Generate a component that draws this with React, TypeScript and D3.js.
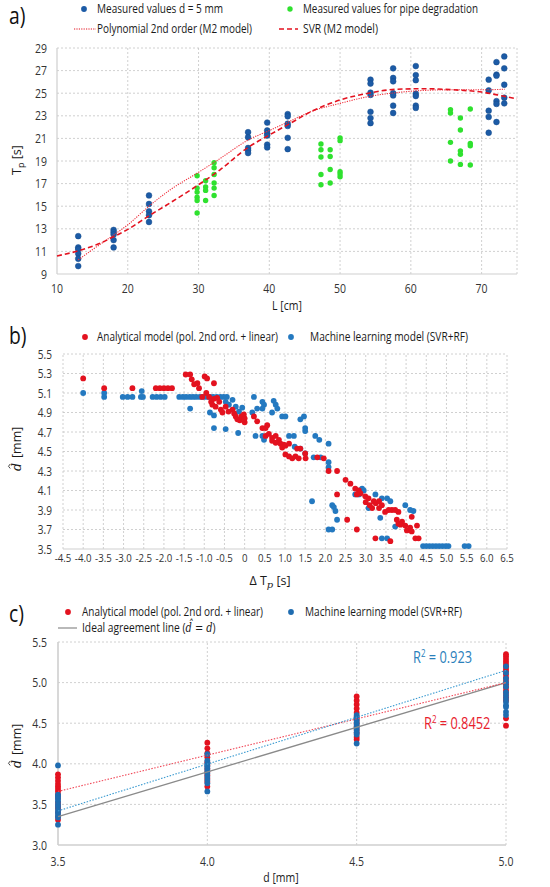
import React from "react";
import * as d3 from "d3";

const W = 550;
const H = 887;
const FONT = "'Open Sans', 'Noto Sans', sans-serif";
const MATH = "'DejaVu Serif', 'Liberation Serif', serif";
const SX = 0.84; // the source figure is squeezed horizontally

// ---------- a) peak period vs pipe length ----------
const lTicks = [10, 20, 30, 40, 50, 60, 70];
const tTicks = [9, 11, 13, 15, 17, 19, 21, 23, 25, 27, 29];

const measuredL = [13, 18, 23, 37, 39.7, 42.6, 54.3, 57.5, 60.7, 71, 72.1, 73.2];
const measuredT = [
  [12.35, 11.35, 11.2, 10.8, 10.35, 9.7],
  [12.9, 12.7, 12.5, 12.0, 11.35],
  [15.95, 15.2, 14.55, 14.2, 13.6],
  [21.55, 21.1, 20.15, 19.95, 19.7],
  [22.4, 21.7, 21.45, 21.25, 20.45, 20.2],
  [23.15, 22.95, 22.3, 22.1, 21.05, 20.05],
  [26.2, 25.85, 25.05, 24.85, 23.35, 22.8, 22.35],
  [27.2, 26.35, 26.05, 25.0, 24.8, 23.9, 23.25],
  [27.4, 26.6, 26.15, 24.95, 24.75, 23.9, 23.7],
  [26.2, 25.25, 23.45, 22.9, 21.5],
  [27.75, 26.65, 26.55, 24.3, 24.05, 22.45],
  [28.25, 27.2, 25.75, 24.6, 24.1],
];

const degradedL = [29.8, 31, 32.2, 47.3, 48.6, 50, 65.6, 67, 68.4];
const degradedT = [
  [17.7, 16.6, 16.25, 15.8, 15.5, 14.4],
  [17.25, 16.7, 16.4, 15.5],
  [18.85, 18.4, 17.8, 17.05, 16.6, 15.95],
  [20.5, 20.0, 19.35, 17.8, 16.9],
  [20.0, 19.4, 18.25, 17.05],
  [21.05, 20.8, 18.05, 17.85, 17.6],
  [23.55, 23.25, 20.65, 19.0],
  [22.8, 21.75, 19.9, 19.6, 18.7],
  [23.6, 20.55, 20.35, 18.65],
];

const polyCurve: [number, number][] = [
  [13, 10.25], [15, 11.15], [18, 12.45], [20, 13.35], [23, 15.0], [26, 16.45],
  [30, 18.0], [33, 19.2], [37, 20.85], [40, 21.7], [43, 22.55], [46, 23.4],
  [50, 24.1], [54, 24.7], [58, 25.05], [62, 25.25], [66, 25.3], [70, 25.3], [73.3, 25.35],
];
const svrCurve: [number, number][] = [
  [10, 10.6], [13, 11.05], [16, 11.7], [18, 12.3], [20, 12.95], [23, 14.15],
  [26, 15.3], [30, 16.9], [33, 18.2], [37, 20.2], [40, 21.3], [43, 22.35],
  [46, 23.4], [50, 24.4], [54, 25.0], [58, 25.35], [62, 25.4], [66, 25.3],
  [70, 25.1], [73, 24.75], [75, 24.5],
];

// ---------- b) predicted diameter vs delta Tp ----------
const dtTicks = [-4.5, -4.0, -3.5, -3.0, -2.5, -2.0, -1.5, -1.0, -0.5, 0, 0.5, 1.0, 1.5, 2.0, 2.5, 3.0, 3.5, 4.0, 4.5, 5.0, 5.5, 6.0, 6.5];
const dhatTicksB = [3.5, 3.7, 3.9, 4.1, 4.3, 4.5, 4.7, 4.9, 5.1, 5.3, 5.5];

const analyticalB: [number, number][] = [
  [-4.0, 5.25], [-3.48, 5.15], [-2.78, 5.15], [-2.2, 5.15], [-2.1, 5.15], [-2.0, 5.15], [-1.9, 5.15], [-1.8, 5.15],
  [-1.46, 5.29], [-1.35, 5.29], [-1.31, 5.24], [-1.25, 5.19], [-1.17, 5.2], [-1.13, 5.15], [-0.99, 5.27], [-0.93, 5.25], [-0.76, 5.2],
  [-1.05, 5.06], [-0.95, 5.1], [-0.88, 5.06], [-0.83, 5.01], [-0.76, 5.04], [-0.68, 5.05], [-0.63, 5.01], [-0.8, 4.98], [-0.72, 4.96],
  [-0.59, 4.93], [-0.55, 4.9], [-0.47, 4.96], [-0.4, 4.91], [-0.3, 4.93], [-0.26, 4.89], [-0.22, 4.86], [-0.18, 4.83], [-0.12, 4.82],
  [-0.08, 4.86], [-0.02, 4.88], [0.0, 4.84], [0.0, 4.8],
  [0.23, 4.86], [0.31, 4.81], [0.44, 4.74], [0.52, 4.74], [0.56, 4.77], [0.52, 4.66], [0.6, 4.68], [0.68, 4.64], [0.77, 4.66],
  [0.85, 4.62], [0.68, 4.61], [0.77, 4.59], [0.89, 4.58], [0.97, 4.57],
  [0.93, 4.54], [1.01, 4.56], [1.1, 4.58], [1.01, 4.47], [1.1, 4.45], [1.18, 4.43], [1.26, 4.45], [1.34, 4.43], [1.51, 4.43],
  [1.3, 4.53], [1.38, 4.53], [1.5, 4.48], [1.8, 4.44], [1.96, 4.43],
  [2.08, 4.3], [2.29, 4.3], [2.5, 4.21], [2.62, 4.17], [2.29, 4.06], [2.74, 4.12], [2.83, 4.1], [2.87, 4.07], [2.78, 4.06],
  [2.99, 4.04], [3.07, 4.02],
  [3.0, 3.98], [3.1, 3.95], [3.2, 3.99], [3.25, 3.97], [3.33, 3.99], [3.16, 3.92], [3.33, 3.92], [3.4, 3.95],
  [3.48, 3.88], [3.57, 3.9], [3.65, 3.9], [3.73, 3.9], [3.81, 3.88], [3.77, 3.8], [3.81, 3.76], [3.9, 3.78], [3.86, 3.75],
  [3.98, 3.74], [4.02, 3.69], [4.1, 3.72], [4.14, 3.68], [4.14, 3.83], [4.27, 3.74], [4.23, 3.61], [4.31, 3.61],
  [3.24, 3.61], [3.61, 3.58], [2.78, 3.7], [2.54, 3.8],
];

const machineB: [number, number][] = [
  [-4.0, 5.1], [-3.48, 5.1], [-3.48, 5.06], [-3.02, 5.06], [-2.9, 5.06], [-2.78, 5.06], [-2.57, 5.06], [-2.52, 5.06], [-2.55, 5.12],
  [-2.28, 5.06], [-2.18, 5.06], [-2.08, 5.06], [-1.98, 5.06],
  [-1.62, 5.06], [-1.53, 5.06], [-1.45, 5.06], [-1.36, 5.06], [-1.28, 5.06], [-1.2, 5.06], [-1.11, 5.06], [-1.03, 5.06],
  [-0.94, 5.06], [-0.86, 5.06], [-0.78, 5.06], [-0.69, 5.06], [-0.6, 5.06], [-0.52, 5.06], [-0.44, 5.06],
  [-1.35, 4.94], [-0.86, 4.9], [-0.76, 4.87], [-0.76, 4.74], [-0.47, 4.73], [-0.16, 4.69], [-0.47, 5.01], [-0.39, 4.98],
  [-0.3, 5.03], [-0.22, 4.96], [-0.14, 4.91], [-0.06, 4.95],
  [0.23, 5.06], [0.44, 5.01], [0.48, 4.98], [0.44, 4.94], [0.19, 4.9], [0.31, 4.94], [0.27, 4.66], [0.44, 4.66], [0.48, 4.62],
  [0.72, 5.02], [0.77, 4.98], [0.81, 4.94], [0.68, 4.9], [0.93, 4.86], [1.01, 4.86], [1.1, 4.66], [1.22, 4.66], [1.24, 4.55],
  [1.47, 4.86], [1.38, 4.83], [1.5, 4.74], [1.5, 4.71], [1.75, 4.66], [1.85, 4.62], [2.08, 4.58], [1.71, 4.44], [1.88, 4.44],
  [1.38, 4.53], [1.5, 4.48], [2.08, 4.39], [2.08, 4.34],
  [1.67, 3.99], [2.17, 3.95], [2.21, 3.93], [2.25, 3.89], [2.29, 3.8], [2.08, 3.7], [2.17, 3.7], [2.74, 4.06], [2.83, 4.06],
  [2.87, 4.1], [2.91, 4.12], [2.95, 4.1], [3.24, 4.06], [3.4, 4.02], [3.53, 4.02], [3.61, 3.99], [3.07, 3.92], [3.36, 3.82],
  [3.4, 3.61], [3.53, 3.61], [3.98, 3.95], [4.1, 3.9], [4.18, 3.89], [3.73, 3.73],
  [4.42, 3.53], [4.5, 3.53], [4.58, 3.53], [4.66, 3.53], [4.74, 3.53], [4.82, 3.53], [4.9, 3.53], [4.98, 3.53], [5.05, 3.53],
  [5.45, 3.53], [5.55, 3.53],
];

// ---------- c) predicted vs real diameter ----------
const dTicks = [3.5, 4.0, 4.5, 5.0];
const dhatTicksC = [3.0, 3.5, 4.0, 4.5, 5.0, 5.5];
const realD = [3.5, 4.0, 4.5, 5.0];
const analyticalC = [
  [3.87, 3.83, 3.79, 3.75, 3.72, 3.69, 3.66, 3.62, 3.58, 3.52, 3.48, 3.45, 3.4, 3.35, 3.31],
  [4.26, 4.19, 4.13, 4.08, 4.02, 3.98, 3.94, 3.9, 3.86, 3.82, 3.78, 3.72],
  [4.83, 4.78, 4.73, 4.68, 4.63, 4.58, 4.54, 4.5, 4.46, 4.42, 4.38, 4.33, 4.3],
  [5.35, 5.32, 5.29, 5.26, 5.23, 5.2, 5.17, 5.14, 5.1, 5.06, 5.02, 4.98, 4.94, 4.9, 4.86, 4.82, 4.78, 4.56, 4.47],
];
const machineC = [
  [3.98, 3.62, 3.6, 3.57, 3.54, 3.5, 3.47, 3.43, 3.4, 3.37, 3.34, 3.25],
  [4.12, 4.04, 4.0, 3.97, 3.94, 3.91, 3.88, 3.84, 3.8, 3.76, 3.66],
  [4.6, 4.57, 4.54, 4.51, 4.48, 4.45, 4.42, 4.39, 4.36, 4.25],
  [5.2, 5.12, 5.05, 5.0, 4.95, 4.88, 4.84, 4.8, 4.76, 4.72, 4.7, 4.64, 4.6],
];
const analyticalFit: [number, number][] = [[3.5, 3.66], [5.0, 5.0]];
const machineFit: [number, number][] = [[3.5, 3.42], [5.0, 5.15]];
const idealLine: [number, number][] = [[3.5, 3.35], [5.0, 5.0]];

const BLUE_A = "#1c5ba6";
const GREEN = "#2fe12f";
const RED = "#e3121f";
const BLUE_B = "#2479c0";
const BLUE_C = "#1f6cb0";
const GRID = "#c4c4c4";
const AXIS = "#cfcfcf";
const TICK = "#333";

const Txt = ({ x, y, size = 12.5, anchor = "start", fill = "#1a1a1a", len, sx = SX, children }: any) => (
  <text
    transform={len ? undefined : `translate(${x},${y}) scale(${sx},1)`}
    x={len ? x : 0}
    y={len ? y : 0}
    fontSize={size}
    textAnchor={anchor}
    fill={fill}
    fontFamily={FONT}
    textLength={len}
    lengthAdjust={len ? "spacingAndGlyphs" : undefined}
  >
    {children}
  </text>
);

// italic d with a hat, drawn at local baseline (x, y)
const DHat = ({ x, y, size = 12.5 }: any) => (
  <g transform={`translate(${x},${y})`}>
    <text fontFamily={MATH} fontStyle="italic" fontSize={size} fill="#1a1a1a">d</text>
    <path
      d={`M${size * 0.2},${-size * 0.86} L${size * 0.38},${-size * 1.0} L${size * 0.56},${-size * 0.86}`}
      fill="none"
      stroke="#1a1a1a"
      strokeWidth={0.8}
    />
  </g>
);

const DHatLabel = ({ x, y }: any) => (
  <g transform={`translate(${x},${y}) rotate(-90)`}>
    <DHat x={-23} y={0} />
    <text x={-10} y={0} fontSize={12.5} fill="#1a1a1a" fontFamily={FONT}>[mm]</text>
  </g>
);

export default function App() {
  const xA = d3.scaleLinear().domain([10, 75]).range([57, 517]);
  const yA = d3.scaleLinear().domain([9, 29]).range([274, 48]);
  const xB = d3.scaleLinear().domain([-4.5, 6.5]).range([63, 507]);
  const yB = d3.scaleLinear().domain([3.5, 5.5]).range([549, 354]);
  const xC = d3.scaleLinear().domain([3.5, 5.0]).range([58, 506]);
  const yC = d3.scaleLinear().domain([3.0, 5.5]).range([845, 642]);

  const lineA = d3.line<[number, number]>().x((d) => xA(d[0])).y((d) => yA(d[1])).curve(d3.curveMonotoneX);
  const lineC = d3.line<[number, number]>().x((d) => xC(d[0])).y((d) => yC(d[1]));

  const grid = (xs: number[], ys: number[], x: any, y: any, xr: number[], yr: number[]) => (
    <g stroke={GRID} strokeWidth={0.8} strokeDasharray="2,2">
      {xs.map((v) => (
        <line key={"x" + v} x1={x(v)} x2={x(v)} y1={y(yr[0])} y2={y(yr[1])} />
      ))}
      {ys.map((v) => (
        <line key={"y" + v} x1={x(xr[0])} x2={x(xr[1])} y1={y(v)} y2={y(v)} />
      ))}
    </g>
  );

  return (
    <svg width={W} height={H} style={{ position: "absolute", left: 0, top: 0, background: "#fff" }}>
      <rect width={W} height={H} fill="#fff" />

      {/* ---------------- panel a ---------------- */}
      <Txt x={9} y={24} size={23} fill="#111">a)</Txt>
      <circle cx={84} cy={9} r={2.9} fill={BLUE_A} />
      <Txt x={97} y={13} len={126}>Measured values d = 5 mm</Txt>
      <circle cx={290} cy={9} r={2.7} fill={GREEN} />
      <Txt x={303} y={13} len={175}>Measured values for pipe degradation</Txt>
      <line x1={74} x2={96} y1={29} y2={29} stroke={RED} strokeWidth={1} strokeDasharray="1.2,1.2" />
      <Txt x={97} y={33} len={155}>Polynomial 2nd order (M2 model)</Txt>
      <line x1={279} x2={298} y1={29} y2={29} stroke={RED} strokeWidth={1.6} strokeDasharray="5,3" />
      <Txt x={303} y={33} len={75}>SVR (M2 model)</Txt>

      {grid([...lTicks.slice(1), 75], tTicks.slice(1), xA, yA, [10, 75], [9, 29])}
      <line x1={xA(10)} x2={xA(10)} y1={yA(9)} y2={yA(29)} stroke={AXIS} strokeWidth={1.2} />
      <line x1={xA(10)} x2={xA(75)} y1={yA(9)} y2={yA(9)} stroke={AXIS} strokeWidth={1.2} />
      {tTicks.map((v) => (
        <Txt key={v} x={47} y={yA(v) + 4.5} anchor="end" fill={TICK}>{v}</Txt>
      ))}
      {lTicks.map((v) => (
        <Txt key={v} x={xA(v)} y={293} anchor="middle" fill={TICK}>{v}</Txt>
      ))}
      <Txt x={287} y={310} anchor="middle">L [cm]</Txt>
      <text transform="translate(21,160) rotate(-90)" fontSize={12.5} textAnchor="middle" fill="#1a1a1a" fontFamily={FONT}>
        T<tspan fontSize={9} dy={3}>p</tspan>
        <tspan dy={-3}> [s]</tspan>
      </text>

      {measuredL.map((l, i) =>
        measuredT[i].map((t, j) => (
          <circle key={`m${i}-${j}`} cx={xA(l)} cy={yA(t)} r={2.9} fill={BLUE_A} stroke="#174c8c" strokeWidth={0.5} />
        ))
      )}
      {degradedL.map((l, i) =>
        degradedT[i].map((t, j) => (
          <circle key={`g${i}-${j}`} cx={xA(l)} cy={yA(t)} r={2.7} fill={GREEN} />
        ))
      )}
      <path d={lineA(polyCurve) ?? ""} fill="none" stroke="#f0303c" strokeWidth={1.1} strokeDasharray="1.2,1.2" />
      <path d={lineA(svrCurve) ?? ""} fill="none" stroke={RED} strokeWidth={1.6} strokeDasharray="5,3" />

      {/* ---------------- panel b ---------------- */}
      <Txt x={9} y={344} size={23} fill="#111">b)</Txt>
      <circle cx={85} cy={337} r={2.9} fill={RED} />
      <Txt x={97} y={341} len={181}>Analytical model (pol. 2nd ord. + linear)</Txt>
      <circle cx={291} cy={337} r={2.9} fill={BLUE_B} />
      <Txt x={310} y={341} len={158}>Machine learning model (SVR+RF)</Txt>

      {grid(dtTicks, dhatTicksB.slice(1), xB, yB, [-4.5, 6.5], [3.5, 5.5])}
      <line x1={xB(-4.5)} x2={xB(6.5)} y1={yB(3.5)} y2={yB(3.5)} stroke={AXIS} strokeWidth={1.2} />
      {dhatTicksB.map((v) => (
        <Txt key={v} x={52} y={yB(v) + 4.5} size={12} anchor="end" fill={TICK}>{v.toFixed(1)}</Txt>
      ))}
      {dtTicks.map((v) => (
        <Txt key={v} x={xB(v)} y={562} size={11.5} anchor="middle" fill={TICK}>{v === 0 ? "0" : v.toFixed(1)}</Txt>
      ))}
      <text x={270} y={585} fontSize={12.5} textAnchor="middle" fill="#1a1a1a" fontFamily={FONT}>
        Δ T<tspan fontFamily={MATH} fontStyle="italic" fontSize={10} dy={3}>p</tspan>
        <tspan dy={-3}> [s]</tspan>
      </text>
      <DHatLabel x={21} y={448} />

      {machineB.map((p, i) => (
        <circle key={`mb${i}`} cx={xB(p[0])} cy={yB(p[1])} r={2.9} fill={BLUE_B} />
      ))}
      {analyticalB.map((p, i) => (
        <circle key={`ab${i}`} cx={xB(p[0])} cy={yB(p[1])} r={2.9} fill={RED} />
      ))}

      {/* ---------------- panel c ---------------- */}
      <Txt x={9} y={622} size={23} fill="#111">c)</Txt>
      <circle cx={68} cy={612} r={2.9} fill={RED} />
      <Txt x={82} y={616} len={181}>Analytical model (pol. 2nd ord. + linear)</Txt>
      <circle cx={291} cy={612} r={2.9} fill={BLUE_C} />
      <Txt x={305} y={616} len={157}>Machine learning model (SVR+RF)</Txt>
      <line x1={58} x2={77} y1={628} y2={628} stroke="#8a8a8a" strokeWidth={1.2} />
      <Txt x={82} y={632} sx={0.82}>
        {"Ideal agreement line ("}
        <tspan fontFamily={MATH} fontStyle="italic" fontSize={12}>{"d\u0302 = d"}</tspan>
        {")"}
      </Txt>

      {grid(dTicks.slice(1), dhatTicksC.slice(1), xC, yC, [3.5, 5.0], [3.0, 5.5])}
      <line x1={xC(3.5)} x2={xC(3.5)} y1={yC(3.0)} y2={yC(5.5)} stroke={AXIS} strokeWidth={1.6} />
      <line x1={xC(3.5)} x2={xC(5.0)} y1={yC(3.0)} y2={yC(3.0)} stroke={AXIS} strokeWidth={1.6} />
      {dhatTicksC.map((v) => (
        <Txt key={v} x={47} y={yC(v) + 4.5} anchor="end" fill={TICK}>{v.toFixed(1)}</Txt>
      ))}
      {dTicks.map((v) => (
        <Txt key={v} x={xC(v)} y={866} anchor="middle" fill={TICK}>{v.toFixed(1)}</Txt>
      ))}
      <Txt x={281} y={882} anchor="middle">d [mm]</Txt>
      <DHatLabel x={21} y={745} />

      {realD.map((d, i) =>
        analyticalC[i].map((v, j) => (
          <circle key={`ac${i}-${j}`} cx={xC(d)} cy={yC(v)} r={2.9} fill={RED} />
        ))
      )}
      {realD.map((d, i) =>
        machineC[i].map((v, j) => (
          <circle key={`mc${i}-${j}`} cx={xC(d)} cy={yC(v)} r={2.9} fill={BLUE_C} />
        ))
      )}
      <path d={lineC(idealLine) ?? ""} fill="none" stroke="#8a8a8a" strokeWidth={1.3} />
      <path d={lineC(analyticalFit) ?? ""} fill="none" stroke="#f04858" strokeWidth={1.1} strokeDasharray="1.5,1.5" />
      <path d={lineC(machineFit) ?? ""} fill="none" stroke="#3a9ad0" strokeWidth={1.1} strokeDasharray="1.5,1.5" />

      <Txt x={413} y={663} size={16} fill="#2a80bb" sx={0.8}>
        R<tspan fontSize={10} dy={-6}>2</tspan>
        <tspan dy={6}>{" = 0.923"}</tspan>
      </Txt>
      <Txt x={424} y={729} size={16} fill="#e8202c" sx={0.8}>
        R<tspan fontSize={10} dy={-6}>2</tspan>
        <tspan dy={6}>{" = 0.8452"}</tspan>
      </Txt>
    </svg>
  );
}
